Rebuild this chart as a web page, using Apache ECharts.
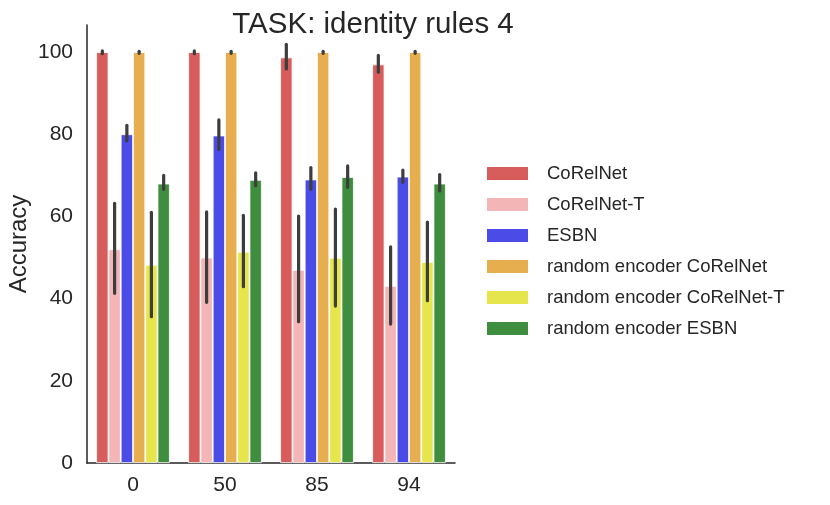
<!DOCTYPE html>
<html>
<head>
<meta charset="utf-8">
<script src="https://cdn.jsdelivr.net/npm/echarts@6/dist/echarts.min.js"></script>
<style>html,body{margin:0;padding:0;background:#fff}#c{width:830px;height:505px}</style>
</head>
<body>
<div id="c"></div>
<script>
const categories = ['0', '50', '85', '94'];
const seriesNames = ['CoRelNet', 'CoRelNet-T', 'ESBN', 'random encoder CoRelNet', 'random encoder CoRelNet-T', 'random encoder ESBN'];
const colors = ['#d75d5d', '#f3b5b5', '#4b4be8', '#e7ae4f', '#e6e64c', '#3f8e3f'];
const means = [
  [100, 100, 98.7, 97.0],
  [52.0, 50.0, 47.0, 43.1],
  [80.0, 79.7, 69.0, 69.7],
  [100, 100, 100, 100],
  [48.2, 51.4, 49.9, 48.9],
  [68.0, 68.9, 69.6, 68.0]
];
const lows = [
  [99.6, 99.6, 95.9, 95.1],
  [41.3, 39.1, 34.4, 33.8],
  [78.4, 76.3, 66.6, 68.3],
  [99.7, 99.7, 99.7, 99.7],
  [35.6, 42.9, 38.2, 39.5],
  [66.6, 67.5, 67.1, 66.2]
];
const highs = [
  [100.3, 100.3, 101.9, 99.2],
  [63.2, 61.1, 60.1, 52.6],
  [82.2, 83.5, 71.9, 71.3],
  [100.2, 100.2, 100.2, 100.2],
  [61.0, 60.3, 61.8, 58.6],
  [70.0, 70.6, 72.3, 70.2]
];
const yTicks = [0, 20, 40, 60, 80, 100];

const chart = echarts.init(document.getElementById('c'), null, {renderer: 'canvas'});
const nS = seriesNames.length;
const series = [];
seriesNames.forEach((name, s) => {
  series.push({
    name: name,
    type: 'bar',
    data: means[s],
    barGap: '0%',
    barCategoryGap: '20%',
    itemStyle: {color: colors[s], borderColor: '#ffffff', borderWidth: 0.8},
    emphasis: {disabled: true},
    animation: false
  });
});
seriesNames.forEach((name, s) => {
  series.push({
    name: name + ' err',
    type: 'custom',
    z: 10,
    animation: false,
    data: categories.map((c, i) => [i, lows[s][i], highs[s][i]]),
    renderItem: function (params, api) {
      const ci = api.value(0);
      const center = api.coord([ci, 0])[0];
      const band = api.size([1, 0])[0];
      const gw = band * 0.8;
      const bw = gw / nS;
      const x = center - gw / 2 + bw * (s + 0.5);
      const p1 = api.coord([ci, api.value(1)]);
      const p2 = api.coord([ci, api.value(2)]);
      return {
        type: 'line',
        shape: {x1: x, y1: p1[1], x2: x, y2: p2[1]},
        style: {stroke: '#3d3d3d', lineWidth: 3.2, lineCap: 'round'}
      };
    }
  });
});

chart.setOption({
  animation: false,
  backgroundColor: '#ffffff',
  title: {
    text: 'TASK: identity rules 4',
    left: 368, top: 5, textAlign: 'center',
    textStyle: {fontFamily: 'Liberation Sans', fontSize: 29.5, fontWeight: 'normal', color: '#262626'}
  },
  legend: {
    data: seriesNames,
    orient: 'vertical',
    left: 485, top: 164,
    padding: 0,
    itemWidth: 43, itemHeight: 15, itemGap: 12,
    icon: 'rect',
    textStyle: {fontFamily: 'Liberation Sans', fontSize: 18.5, color: '#262626', padding: [0, 0, 0, 13]},
    selectedMode: false
  },
  grid: {left: 87, right: 375, top: 25, bottom: 42, containLabel: false},
  xAxis: {
    type: 'category',
    data: categories,
    axisLine: {lineStyle: {color: '#262626', width: 1.5}},
    axisTick: {show: false},
    axisLabel: {fontFamily: 'Liberation Sans', fontSize: 21, color: '#262626', margin: 12}
  },
  yAxis: {
    type: 'value',
    min: 0, max: 106.6, interval: 20,
    name: 'Accuracy',
    nameLocation: 'middle',
    nameGap: 56,
    nameTextStyle: {fontFamily: 'Liberation Sans', fontSize: 24, color: '#262626'},
    axisLine: {show: true, lineStyle: {color: '#262626', width: 1.5}},
    axisTick: {show: false},
    splitLine: {show: false},
    axisLabel: {
      fontFamily: 'Liberation Sans', fontSize: 21, color: '#262626', margin: 14,
      formatter: v => (yTicks.indexOf(v) >= 0 ? String(v) : '')
    }
  },
  series: series
});
</script>
</body>
</html>
